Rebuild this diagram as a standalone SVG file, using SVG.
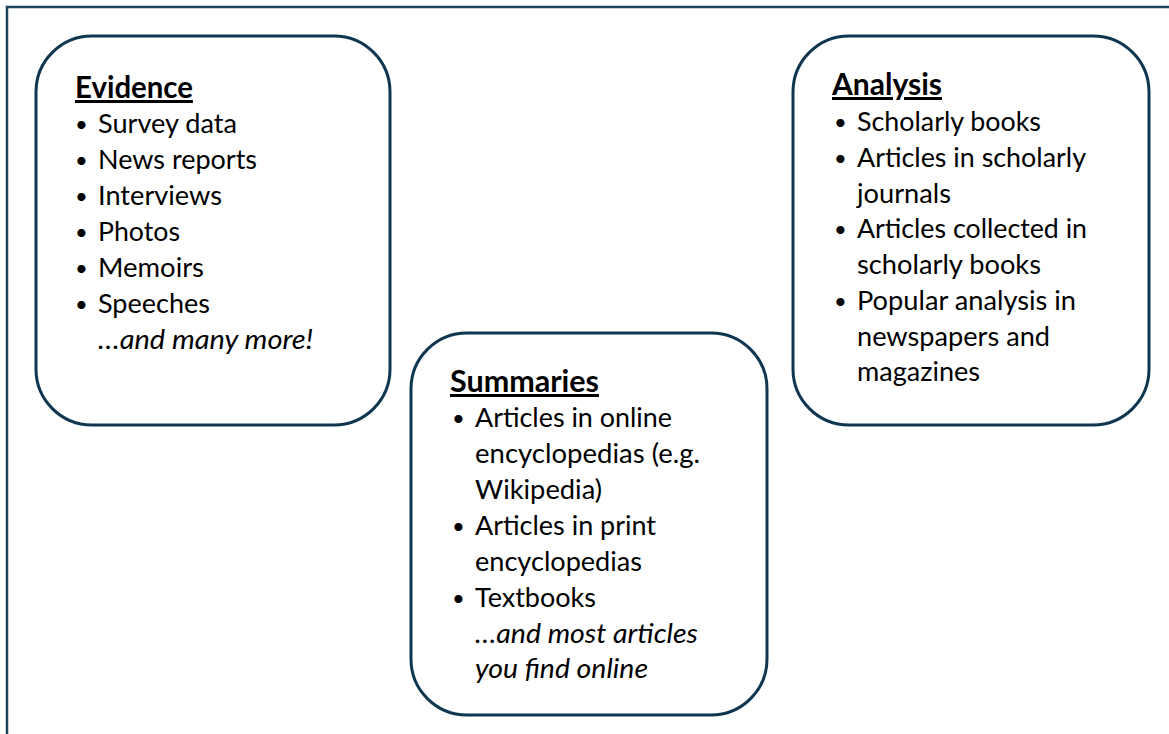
<svg xmlns="http://www.w3.org/2000/svg" width="1169" height="734" viewBox="0 0 1169 734">
<style>
.frame{fill:none;stroke:#1a4459;stroke-width:2.5}
.box{fill:#fff;stroke:#0e3650;stroke-width:3}
text{font-family:Lato,"Open Sans","Liberation Sans",sans-serif;font-size:26.5px;fill:#000}
.h{font-weight:bold;font-size:30px;text-decoration:underline}
.i{font-style:italic}
.b{font-size:22px}
</style>
<rect x="0" y="0" width="1169" height="734" fill="#fff"/>
<rect class="frame" x="7" y="7" width="1200" height="800"/>
<g id="evidence">
<rect class="box" x="36" y="36" width="354" height="389" rx="56" ry="56"/>
<text class="h" x="75" y="98" textLength="118" lengthAdjust="spacingAndGlyphs">Evidence</text>
<text class="b" x="75" y="132">•</text><text x="98" y="133" textLength="139" lengthAdjust="spacingAndGlyphs">Survey data</text>
<text class="b" x="75" y="168">•</text><text x="98" y="169" textLength="159" lengthAdjust="spacingAndGlyphs">News reports</text>
<text class="b" x="75" y="204">•</text><text x="98" y="205" textLength="124" lengthAdjust="spacingAndGlyphs">Interviews</text>
<text class="b" x="75" y="240">•</text><text x="98" y="241" textLength="82" lengthAdjust="spacingAndGlyphs">Photos</text>
<text class="b" x="75" y="276">•</text><text x="98" y="277" textLength="106" lengthAdjust="spacingAndGlyphs">Memoirs</text>
<text class="b" x="75" y="312">•</text><text x="98" y="313" textLength="112" lengthAdjust="spacingAndGlyphs">Speeches</text>
<text class="i" x="98" y="349" textLength="215" lengthAdjust="spacingAndGlyphs">…and many more!</text>
</g>
<g id="summaries">
<rect class="box" x="411" y="333" width="356" height="382" rx="56" ry="56"/>
<text class="h" x="450" y="392" textLength="149" lengthAdjust="spacingAndGlyphs">Summaries</text>
<text class="b" x="452" y="426">•</text><text x="475" y="427" textLength="197" lengthAdjust="spacingAndGlyphs">Articles in online</text>
<text x="475" y="463" textLength="225" lengthAdjust="spacingAndGlyphs">encyclopedias (e.g.</text>
<text x="475" y="499" textLength="127" lengthAdjust="spacingAndGlyphs">Wikipedia)</text>
<text class="b" x="452" y="534">•</text><text x="475" y="535" textLength="181" lengthAdjust="spacingAndGlyphs">Articles in print</text>
<text x="475" y="571" textLength="167" lengthAdjust="spacingAndGlyphs">encyclopedias</text>
<text class="b" x="452" y="606">•</text><text x="475" y="607" textLength="121" lengthAdjust="spacingAndGlyphs">Textbooks</text>
<text class="i" x="475" y="643" textLength="223" lengthAdjust="spacingAndGlyphs">…and most articles</text>
<text class="i" x="475" y="678" textLength="173" lengthAdjust="spacingAndGlyphs">you find online</text>
</g>
<g id="analysis">
<rect class="box" x="793" y="36" width="356" height="389" rx="56" ry="56"/>
<text class="h" x="832" y="95" textLength="110" lengthAdjust="spacingAndGlyphs">Analysis</text>
<text class="b" x="834" y="130">•</text><text x="857" y="131" textLength="184" lengthAdjust="spacingAndGlyphs">Scholarly books</text>
<text class="b" x="834" y="166">•</text><text x="857" y="167" textLength="229" lengthAdjust="spacingAndGlyphs">Articles in scholarly</text>
<text x="857" y="203" textLength="94" lengthAdjust="spacingAndGlyphs">journals</text>
<text class="b" x="834" y="237">•</text><text x="857" y="238" textLength="230" lengthAdjust="spacingAndGlyphs">Articles collected in</text>
<text x="857" y="274" textLength="184" lengthAdjust="spacingAndGlyphs">scholarly books</text>
<text class="b" x="834" y="309">•</text><text x="857" y="310" textLength="219" lengthAdjust="spacingAndGlyphs">Popular analysis in</text>
<text x="857" y="346" textLength="193" lengthAdjust="spacingAndGlyphs">newspapers and</text>
<text x="857" y="381" textLength="123" lengthAdjust="spacingAndGlyphs">magazines</text>
</g>
<g id="connectors"></g>
</svg>
